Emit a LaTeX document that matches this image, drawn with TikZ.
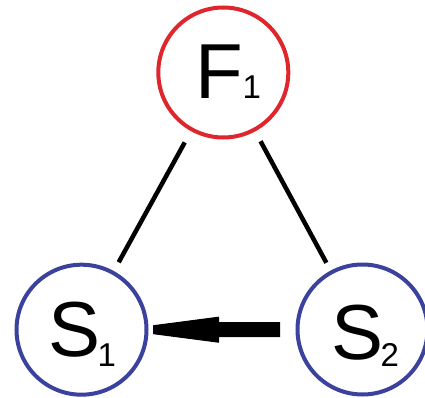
\documentclass[tikz,border=0pt]{standalone}
\usepackage{fontspec}
\setmainfont{Liberation Sans}
\usetikzlibrary{arrows.meta}
\definecolor{fred}{RGB}{222,38,44}
\definecolor{sblue}{RGB}{58,66,158}
\tikzset{
  state/.style={circle, draw, line width=4pt, minimum size=130pt, inner sep=0pt, outer sep=0pt},
  bigtxt/.style={anchor=base west, inner sep=0pt, outer sep=0pt, font=\fontsize{78}{78}\selectfont},
  subtxt/.style={anchor=base west, inner sep=0pt, outer sep=0pt, font=\fontsize{33}{33}\selectfont},
  link/.style={line width=4.5pt, black},
  shaft/.style={line width=15pt, black},
  head/.style={fill=black, draw=black, line width=1pt, line join=round}
}
\begin{document}
\begin{tikzpicture}[x=1pt,y=-1pt]
\useasboundingbox (0,0) rectangle (425,398);
\node[state, draw=fred] (F1) at (223.3,72.5) {};
\node[state, draw=sblue] (S1) at (81.5,329.7) {};
\node[state, draw=sblue] (S2) at (362.5,329.5) {};
\node[bigtxt] (tF) at (195.6,99) {F};
\node[subtxt] (tF1) at (242.5,99) {1};
\node[bigtxt] (tS1) at (48,356) {S};
\node[subtxt] (tS1s) at (97.5,366) {1};
\node[bigtxt] (tS2) at (331.5,359) {S};
\node[subtxt] (tS2s) at (380.7,366) {2};
\draw[link, shorten <=14.8pt, shorten >=12pt] (F1) -- (S1);
\draw[link, shorten <=13.2pt, shorten >=10.9pt] (F1) -- (S2);
\draw[shaft, shorten <=17.5pt, shorten >=70pt] (S2) -- (S1);
\coordinate (tip) at ([xshift=7pt]S1.east);
\path[head] ([yshift=4pt]tip) -- ([xshift=65pt,yshift=12.5pt]tip) -- ([xshift=65pt,yshift=-12.5pt]tip) -- ([yshift=-4pt]tip) -- cycle;
\end{tikzpicture}
\end{document}
